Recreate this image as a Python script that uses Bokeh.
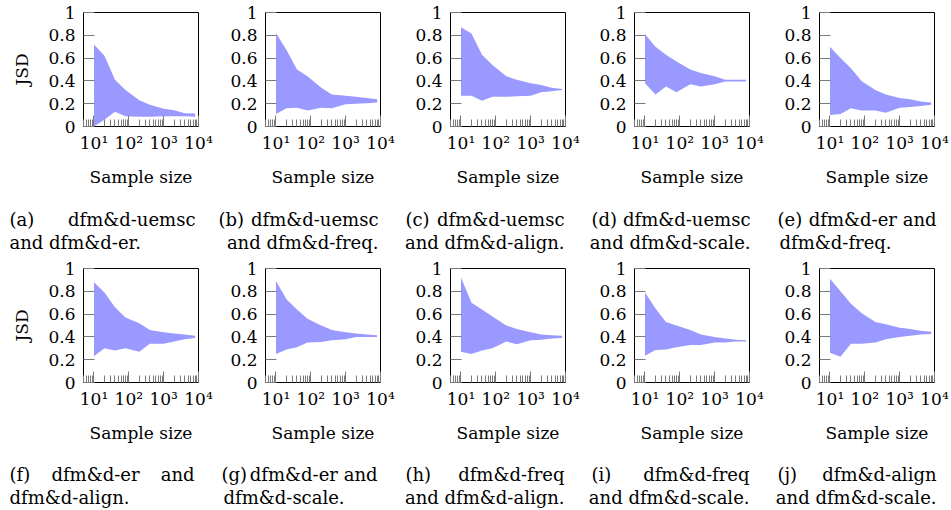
from bokeh.plotting import figure
from bokeh.models import Range1d, FixedTicker, Label
from bokeh.layouts import row, column
from bokeh.embed import file_html
from bokeh.resources import INLINE

# ---------------- data ----------------
sample_sizes = [10, 20, 40, 80, 200, 400, 1000, 2000, 4000, 8000]

lower_a = [0.00, 0.06, 0.13, 0.09, 0.085, 0.085, 0.09, 0.09, 0.09, 0.085]
upper_a = [0.72, 0.62, 0.41, 0.32, 0.23, 0.19, 0.155, 0.143, 0.117, 0.115]

lower_b = [0.11, 0.16, 0.165, 0.14, 0.165, 0.16, 0.195, 0.20, 0.205, 0.21]
upper_b = [0.82, 0.67, 0.50, 0.44, 0.34, 0.28, 0.27, 0.26, 0.25, 0.24]

lower_c = [0.27, 0.27, 0.225, 0.26, 0.26, 0.265, 0.27, 0.30, 0.31, 0.32]
upper_c = [0.87, 0.815, 0.63, 0.54, 0.44, 0.41, 0.38, 0.365, 0.34, 0.33]

lower_d = [0.38, 0.28, 0.35, 0.30, 0.37, 0.35, 0.37, 0.395, 0.395, 0.395]
upper_d = [0.81, 0.70, 0.63, 0.57, 0.50, 0.47, 0.44, 0.41, 0.41, 0.41]

lower_e = [0.10, 0.11, 0.16, 0.14, 0.14, 0.12, 0.165, 0.17, 0.18, 0.19]
upper_e = [0.70, 0.60, 0.51, 0.40, 0.32, 0.28, 0.25, 0.24, 0.22, 0.21]

lower_f = [0.23, 0.30, 0.28, 0.30, 0.27, 0.34, 0.34, 0.36, 0.38, 0.39]
upper_f = [0.88, 0.79, 0.66, 0.57, 0.52, 0.46, 0.44, 0.43, 0.42, 0.41]

lower_g = [0.25, 0.29, 0.31, 0.35, 0.355, 0.37, 0.38, 0.40, 0.40, 0.40]
upper_g = [0.89, 0.73, 0.64, 0.56, 0.50, 0.46, 0.44, 0.43, 0.42, 0.415]

lower_h = [0.27, 0.25, 0.28, 0.30, 0.36, 0.335, 0.37, 0.375, 0.385, 0.39]
upper_h = [0.92, 0.70, 0.64, 0.58, 0.50, 0.47, 0.44, 0.42, 0.415, 0.41]

lower_i = [0.235, 0.285, 0.29, 0.31, 0.33, 0.33, 0.35, 0.35, 0.36, 0.36]
upper_i = [0.79, 0.65, 0.53, 0.50, 0.46, 0.42, 0.40, 0.385, 0.375, 0.37]

lower_j = [0.26, 0.225, 0.34, 0.34, 0.35, 0.38, 0.40, 0.41, 0.42, 0.425]
upper_j = [0.91, 0.80, 0.69, 0.61, 0.53, 0.51, 0.48, 0.47, 0.455, 0.445]

x_major = [10, 100, 1000, 10000]
x_minor = [5, 6, 7, 8, 9,
           20, 30, 40, 50, 60, 70, 80, 90,
           200, 300, 400, 500, 600, 700, 800, 900,
           2000, 3000, 4000, 5000, 6000, 7000, 8000, 9000]
x_tick_labels = ["10¹", "10²", "10³", "10⁴"]
y_ticks = [0, 0.2, 0.4, 0.6, 0.8, 1]
y_tick_labels = ["0", "0.2", "0.4", "0.6", "0.8", "1"]
x_label = "Sample size"
y_label = "JSD"

# caption pieces: (text, x, line, align)
captions_row1 = [
    ("(a)", 9, 1, "left"), ("dfm&d-uemsc", 195, 1, "right"), ("and dfm&d-er.", 9, 2, "left"),
    ("(b)", 218, 1, "left"), ("dfm&d-uemsc", 378, 1, "right"), ("and dfm&d-freq.", 378, 2, "right"),
    ("(c)", 405, 1, "left"), ("dfm&d-uemsc", 564, 1, "right"), ("and dfm&d-align.", 564, 2, "right"),
    ("(d)", 591, 1, "left"), ("dfm&d-uemsc", 750, 1, "right"), ("and dfm&d-scale.", 750, 2, "right"),
    ("(e)", 777, 1, "left"), ("dfm&d-er and", 936, 1, "right"), ("dfm&d-freq.", 779, 2, "left"),
]
captions_row2 = [
    ("(f)", 9, 1, "left"), ("dfm&d-er", 95, 1, "center"), ("and", 194, 1, "right"),
    ("dfm&d-align.", 9, 2, "left"),
    ("(g)", 221, 1, "left"), ("dfm&d-er and", 377, 1, "right"), ("dfm&d-scale.", 223, 2, "left"),
    ("(h)", 405, 1, "left"), ("dfm&d-freq", 564, 1, "right"), ("and dfm&d-align.", 564, 2, "right"),
    ("(i)", 591, 1, "left"), ("dfm&d-freq", 749, 1, "right"), ("and dfm&d-scale.", 749, 2, "right"),
    ("(j)", 777, 1, "left"), ("dfm&d-align", 936, 1, "right"), ("and dfm&d-scale.", 936, 2, "right"),
]

# ---------------- style ----------------
FONT = "DejaVu Serif"
FILL = "#9999ff"
TICK = "#7a7a7a"
FRAME_W = 115
FRAME_H = 115


def make_panel(lower, upper, bl, br, bt, ylabel=False):
    bb = 62
    p = figure(width=bl + FRAME_W + br, height=bt + FRAME_H + bb,
               x_axis_type="log", x_range=Range1d(5, 10000), y_range=Range1d(0, 1),
               output_backend="svg", toolbar_location=None,
               min_border_left=bl, min_border_right=br,
               min_border_top=bt, min_border_bottom=bb)
    p.varea(x=sample_sizes, y1=lower, y2=upper, fill_color=FILL, fill_alpha=1.0)
    p.grid.visible = False
    p.outline_line_color = "black"
    p.outline_line_width = 1
    p.background_fill_color = "white"
    p.border_fill_color = "white"

    xa = p.xaxis[0]
    xa.ticker = FixedTicker(ticks=x_major, minor_ticks=x_minor)
    xa.major_label_overrides = {v: t for v, t in zip(x_major, x_tick_labels)}
    xa.axis_label = x_label
    ya = p.yaxis[0]
    ya.ticker = FixedTicker(ticks=y_ticks, minor_ticks=[])
    ya.major_label_overrides = {v: t for v, t in zip(y_ticks, y_tick_labels)}
    if ylabel:
        ya.axis_label = y_label

    for ax in (xa, ya):
        ax.axis_line_color = None
        ax.major_tick_in = 11
        ax.major_tick_out = 0
        ax.minor_tick_in = 7
        ax.minor_tick_out = 0
        ax.major_tick_line_color = TICK
        ax.minor_tick_line_color = TICK
        ax.major_label_text_font = FONT
        ax.major_label_text_font_size = "17px"
        ax.major_label_text_color = "black"
        ax.axis_label_text_font = FONT
        ax.axis_label_text_font_size = "17px"
        ax.axis_label_text_font_style = "normal"
        ax.axis_label_text_color = "black"
    xa.axis_label_standoff = 11
    ya.axis_label_standoff = 13
    xa.major_label_standoff = 6
    ya.major_label_standoff = 8
    ya.major_label_orientation = "horizontal"
    return p


def make_caption(height, items, y1, y2):
    c = figure(width=951, height=height, x_range=Range1d(0, 951), y_range=Range1d(0, height),
               output_backend="svg", toolbar_location=None,
               x_axis_location=None, y_axis_location=None, min_border=0)
    c.grid.visible = False
    c.outline_line_color = None
    for txt, x, line, align in items:
        c.add_layout(Label(x=x, y=y1 if line == 1 else y2, text=txt, text_align=align,
                           text_baseline="middle", text_font=FONT, text_font_size="18px",
                           text_color="black"))
    return c


# per-column borders: (left border, right border)
borders = [(83, 22), (45, 25), (45, 24), (45, 25), (45, 17)]
row1_data = [(lower_a, upper_a), (lower_b, upper_b), (lower_c, upper_c), (lower_d, upper_d), (lower_e, upper_e)]
row2_data = [(lower_f, upper_f), (lower_g, upper_g), (lower_h, upper_h), (lower_i, upper_i), (lower_j, upper_j)]

row1 = row(*[make_panel(lo, up, bl, br, 12, ylabel=(i == 0))
             for i, ((lo, up), (bl, br)) in enumerate(zip(row1_data, borders))])
row2 = row(*[make_panel(lo, up, bl, br, 12, ylabel=(i == 0))
             for i, ((lo, up), (bl, br)) in enumerate(zip(row2_data, borders))])
cap1 = make_caption(67, captions_row1, 37, 14)
cap2 = make_caption(65, captions_row2, 36, 13)

layout = column(row1, cap1, row2, cap2)

open("out.html", "w").write(file_html(layout, INLINE))
